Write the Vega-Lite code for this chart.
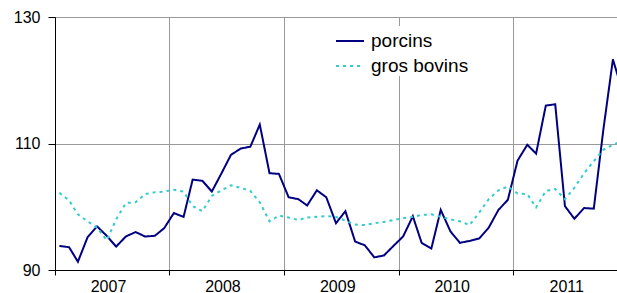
{
  "$schema": "https://vega.github.io/schema/vega-lite/v6.json",
  "autosize": {"type": "none"},
  "width": 562,
  "height": 253,
  "padding": {"left": 55, "top": 17, "right": 0, "bottom": 23},
  "background": "white",
  "config": {
    "view": {"stroke": null},
    "font": "Liberation Sans",
    "axis": {"labelFont": "Liberation Sans", "labelFontSize": 16, "labelColor": "#000000", "domainColor": "#000000", "tickColor": "#000000", "gridColor": "#9a9a9a", "gridWidth": 1, "titleFontSize": 0}
  },
  "data": {"values": [
    {"date": "2007-01-15", "porcins": 93.8, "gros bovins": 102.2},
    {"date": "2007-02-15", "porcins": 93.6, "gros bovins": 101.0},
    {"date": "2007-03-15", "porcins": 91.3, "gros bovins": 98.8},
    {"date": "2007-04-15", "porcins": 95.2, "gros bovins": 97.7},
    {"date": "2007-05-15", "porcins": 96.9, "gros bovins": 96.7},
    {"date": "2007-06-15", "porcins": 95.4, "gros bovins": 94.7},
    {"date": "2007-07-15", "porcins": 93.7, "gros bovins": 98.0},
    {"date": "2007-08-15", "porcins": 95.3, "gros bovins": 100.6},
    {"date": "2007-09-15", "porcins": 96.0, "gros bovins": 100.7},
    {"date": "2007-10-15", "porcins": 95.3, "gros bovins": 102.0},
    {"date": "2007-11-15", "porcins": 95.4, "gros bovins": 102.3},
    {"date": "2007-12-15", "porcins": 96.6, "gros bovins": 102.4},
    {"date": "2008-01-15", "porcins": 99.0, "gros bovins": 102.7},
    {"date": "2008-02-15", "porcins": 98.4, "gros bovins": 102.4},
    {"date": "2008-03-15", "porcins": 104.3, "gros bovins": 100.1},
    {"date": "2008-04-15", "porcins": 104.1, "gros bovins": 99.3},
    {"date": "2008-05-15", "porcins": 102.4, "gros bovins": 101.7},
    {"date": "2008-06-15", "porcins": 105.3, "gros bovins": 102.6},
    {"date": "2008-07-15", "porcins": 108.2, "gros bovins": 103.4},
    {"date": "2008-08-15", "porcins": 109.2, "gros bovins": 103.0},
    {"date": "2008-09-15", "porcins": 109.5, "gros bovins": 102.5},
    {"date": "2008-10-15", "porcins": 113.0, "gros bovins": 100.7},
    {"date": "2008-11-15", "porcins": 105.3, "gros bovins": 97.7},
    {"date": "2008-12-15", "porcins": 105.2, "gros bovins": 98.6},
    {"date": "2009-01-15", "porcins": 101.5, "gros bovins": 98.3},
    {"date": "2009-02-15", "porcins": 101.2, "gros bovins": 97.9},
    {"date": "2009-03-15", "porcins": 100.2, "gros bovins": 98.3},
    {"date": "2009-04-15", "porcins": 102.6, "gros bovins": 98.4},
    {"date": "2009-05-15", "porcins": 101.5, "gros bovins": 98.5},
    {"date": "2009-06-15", "porcins": 97.4, "gros bovins": 98.4},
    {"date": "2009-07-15", "porcins": 99.3, "gros bovins": 97.8},
    {"date": "2009-08-15", "porcins": 94.5, "gros bovins": 97.2},
    {"date": "2009-09-15", "porcins": 93.9, "gros bovins": 97.1},
    {"date": "2009-10-15", "porcins": 92.0, "gros bovins": 97.4},
    {"date": "2009-11-15", "porcins": 92.3, "gros bovins": 97.6},
    {"date": "2009-12-15", "porcins": 93.8, "gros bovins": 97.9},
    {"date": "2010-01-15", "porcins": 95.3, "gros bovins": 98.2},
    {"date": "2010-02-15", "porcins": 98.5, "gros bovins": 98.4},
    {"date": "2010-03-15", "porcins": 94.3, "gros bovins": 98.7},
    {"date": "2010-04-15", "porcins": 93.4, "gros bovins": 98.8},
    {"date": "2010-05-15", "porcins": 99.5, "gros bovins": 98.4},
    {"date": "2010-06-15", "porcins": 96.1, "gros bovins": 98.0},
    {"date": "2010-07-15", "porcins": 94.3, "gros bovins": 97.7},
    {"date": "2010-08-15", "porcins": 94.6, "gros bovins": 97.1},
    {"date": "2010-09-15", "porcins": 95.0, "gros bovins": 99.1},
    {"date": "2010-10-15", "porcins": 96.7, "gros bovins": 101.2},
    {"date": "2010-11-15", "porcins": 99.5, "gros bovins": 102.6},
    {"date": "2010-12-15", "porcins": 101.1, "gros bovins": 103.2},
    {"date": "2011-01-15", "porcins": 107.3, "gros bovins": 102.1},
    {"date": "2011-02-15", "porcins": 109.8, "gros bovins": 102.0},
    {"date": "2011-03-15", "porcins": 108.4, "gros bovins": 99.9},
    {"date": "2011-04-15", "porcins": 116.0, "gros bovins": 102.5},
    {"date": "2011-05-15", "porcins": 116.2, "gros bovins": 102.8},
    {"date": "2011-06-15", "porcins": 100.1, "gros bovins": 101.2},
    {"date": "2011-07-15", "porcins": 98.1, "gros bovins": 103.0},
    {"date": "2011-08-15", "porcins": 99.8, "gros bovins": 105.3},
    {"date": "2011-09-15", "porcins": 99.7, "gros bovins": 107.2},
    {"date": "2011-10-15", "porcins": 112.0, "gros bovins": 109.0},
    {"date": "2011-11-15", "porcins": 123.3, "gros bovins": 109.8},
    {"date": "2011-12-15", "porcins": 118.3, "gros bovins": 110.4}
  ]},
  "transform": [{"fold": ["porcins", "gros bovins"], "as": ["serie", "indice"]}],
  "mark": {"type": "line", "strokeWidth": 2, "clip": true},
  "encoding": {
    "x": {
      "field": "date", "type": "temporal",
      "scale": {"type": "utc", "nice": false, "domain": [{"year": 2007, "month": 1, "date": 1, "utc": true}, {"year": 2011, "month": 11, "date": 28, "utc": true}]},
      "axis": {
        "title": null,
        "values": [{"year": 2007, "month": 1, "date": 1, "utc": true}, {"year": 2008, "month": 1, "date": 1, "utc": true}, {"year": 2009, "month": 1, "date": 1, "utc": true}, {"year": 2010, "month": 1, "date": 1, "utc": true}, {"year": 2011, "month": 1, "date": 1, "utc": true}],
        "labelExpr": "utcFormat(datum.value, '%Y')",
        "grid": true, "tickSize": 5, "labelOffset": 53, "labelPadding": 3, "labelAlign": "center", "labelFlush": false, "labelOverlap": false
      }
    },
    "y": {
      "field": "indice", "type": "quantitative",
      "scale": {"domain": [90, 130], "nice": false, "zero": false},
      "axis": {"title": null, "values": [90, 110, 130], "grid": true, "tickSize": 7, "labelPadding": 8}
    },
    "color": {
      "field": "serie", "type": "nominal",
      "scale": {"domain": ["porcins", "gros bovins"], "range": ["#000080", "#33cccc"]},
      "legend": {"title": null, "orient": "none", "legendX": 280, "legendY": 9, "padding": 0, "fillColor": "white", "symbolType": "stroke", "symbolSize": 784, "symbolStrokeWidth": 2, "labelFontSize": 19, "labelFont": "Liberation Sans", "labelColor": "#000000", "labelOffset": 6, "rowPadding": 0}
    },
    "strokeDash": {
      "field": "serie", "type": "nominal",
      "scale": {"domain": ["porcins", "gros bovins"], "range": [[1, 0], [3, 4]]},
      "legend": {"title": null, "orient": "none", "legendX": 280, "legendY": 9, "padding": 0, "fillColor": "white", "symbolType": "stroke", "symbolSize": 784, "symbolStrokeWidth": 2, "labelFontSize": 19, "labelFont": "Liberation Sans", "labelColor": "#000000", "labelOffset": 6, "rowPadding": 0}
    }
  }
}
